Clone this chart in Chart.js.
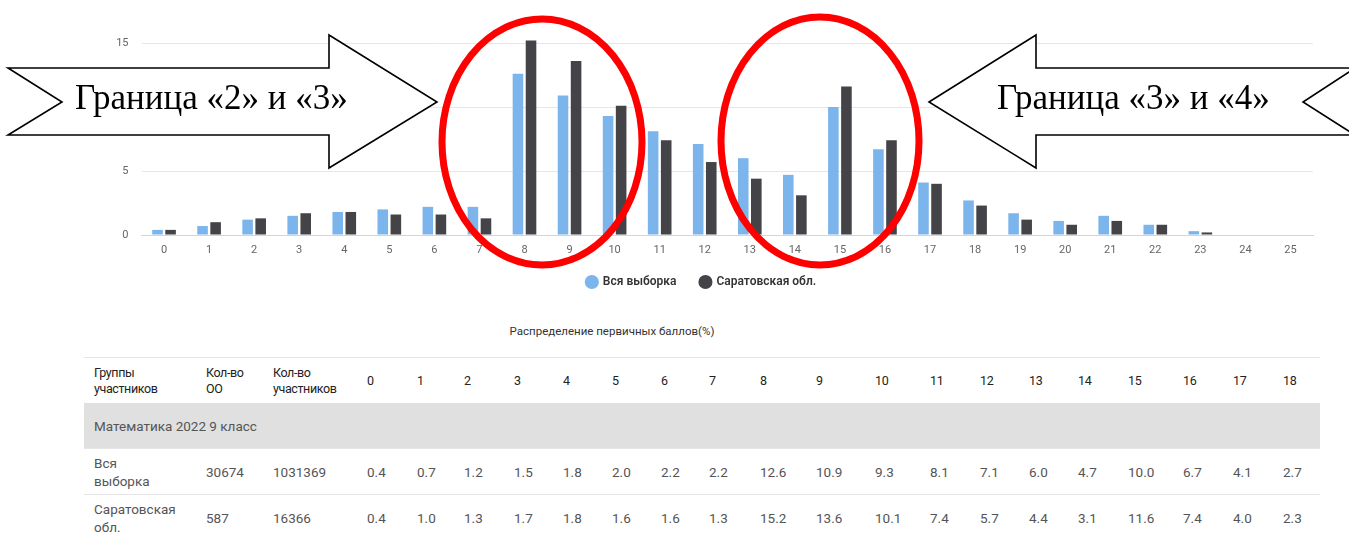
<!DOCTYPE html>
<html>
<head>
<meta charset="utf-8">
<script src="https://cdn.jsdelivr.net/npm/chart.js@4"></script>
<style>
  body { margin: 0; background: #fff; font-family: Roboto, "Noto Sans", sans-serif; }
  #wrap { position: relative; width: 1349px; height: 557px; overflow: hidden; }
  #chart { position: absolute; left: 0; top: 0; }
  #marks { position: absolute; left: 0; top: 0; }
  #caption { position: absolute; left: 0; top: 324px; width: 1224px; text-align: center; font-size: 11.5px; color: #333; }
  #scores { position: absolute; left: 84px; top: 357px; width: 1236px; border-collapse: collapse; table-layout: fixed; }
  #scores td, #scores th { padding: 0 0 0 10px; text-align: left; vertical-align: middle; height: 45px; border-top: 1px solid #e6e6e6; }
  #scores th { font-size: 12.5px; font-weight: 400; color: #222; line-height: 16px; letter-spacing: -0.4px; }
  #scores td { font-size: 13.5px; color: #555; line-height: 18px; }
  #scores tr.group td { background: #e0e0e0; color: #555; border-top: none; }
</style>
</head>
<body>
<div id="wrap">
  <canvas id="chart" width="1349" height="312"></canvas>
  <svg id="marks" width="1349" height="300">
    <polygon points="8,68 329,68 329,35 437,102 329,168 329,135 8,135 62,102" fill="#fff" stroke="#000" stroke-width="1.6"/>
    <text x="75" y="109" font-family="Liberation Serif, Times New Roman, serif" font-size="35" fill="#000">Граница «2» и «3»</text>
    <polygon points="929,102 1036,35 1036,68 1355,68 1303,102 1355,135 1036,135 1036,168" fill="#fff" stroke="#000" stroke-width="1.6"/>
    <text x="997" y="109" font-family="Liberation Serif, Times New Roman, serif" font-size="35" fill="#000">Граница «3» и «4»</text>
    <ellipse cx="542" cy="142" rx="100" ry="123" fill="none" stroke="#ff0000" stroke-width="7"/>
    <ellipse cx="820" cy="141" rx="99" ry="124" fill="none" stroke="#ff0000" stroke-width="7"/>
  </svg>
  <div id="caption">Распределение первичных баллов(%)</div>
  <table id="scores"></table>
</div>
<script>
const scores = ['0','1','2','3','4','5','6','7','8','9','10','11','12','13','14','15','16','17','18','19','20','21','22','23','24','25'];
const allSample = [0.4, 0.7, 1.2, 1.5, 1.8, 2.0, 2.2, 2.2, 12.6, 10.9, 9.3, 8.1, 7.1, 6.0, 4.7, 10.0, 6.7, 4.1, 2.7, 1.7, 1.1, 1.5, 0.8, 0.3, 0, 0];
const saratov = [0.4, 1.0, 1.3, 1.7, 1.8, 1.6, 1.6, 1.3, 15.2, 13.6, 10.1, 7.4, 5.7, 4.4, 3.1, 11.6, 7.4, 4.0, 2.3, 1.2, 0.8, 1.1, 0.8, 0.2, 0, 0];
const seriesNames = ['Вся выборка', 'Саратовская обл.'];

const groupNames = ['Вся<br>выборка', 'Саратовская<br>обл.'];
const schoolCounts = ['30674', '587'];
const pupilCounts = ['1031369', '16366'];
const subjectTitle = 'Математика 2022 9 класс';
const tableCols = 19;

const ctx = document.getElementById('chart').getContext('2d');

// legend sits a bit right of the canvas centre and closer to the axis in the original
const legendShift = {
    id: 'legendShift',
    afterLayout(chart) {
        const lg = chart.legend;
        lg.left += 45;
        lg.right += 45;
        lg.top -= 12;
        lg.bottom -= 12;
    }
};

const chart = new Chart(ctx, {
    type: 'bar',
    data: {
        labels: scores,
        datasets: [
            { label: seriesNames[0], data: allSample, backgroundColor: '#7cb5ec', clip: false },
            { label: seriesNames[1], data: saratov, backgroundColor: '#434348', clip: false }
        ]
    },
    plugins: [legendShift],
    options: {
        responsive: false,
        animation: false,
        layout: { padding: { top: 43, right: 36, bottom: 2, left: 0 } },
        datasets: { bar: { categoryPercentage: 0.58, barPercentage: 0.81 } },
        plugins: {
            legend: {
                position: 'bottom',
                labels: {
                    usePointStyle: true,
                    pointStyle: 'circle',
                    boxWidth: 10,
                    boxHeight: 10,
                    padding: 24,
                    color: '#333',
                    font: { family: 'Roboto', size: 12, weight: '600' }
                }
            },
            tooltip: { enabled: false }
        },
        scales: {
            x: {
                grid: { display: false, drawTicks: false },
                border: { color: '#ccd6eb' },
                ticks: { color: '#666', padding: 9, font: { family: 'Roboto', size: 11 } },
                afterFit: s => { s.height = 29; }
            },
            y: {
                min: 0,
                max: 15,
                ticks: { stepSize: 5, color: '#666', padding: 13, font: { family: 'Roboto', size: 11 } },
                grid: { color: '#e6e6e6', drawTicks: false },
                border: { display: false },
                afterFit: s => { s.width = 141.5; }
            }
        }
    }
});

// table of the first 19 scores
let html = '<tr><th>Группы<br>участников</th><th>Кол-во<br>ОО</th><th>Кол-во<br>участников</th>';
for (let i = 0; i < tableCols; i++) html += '<th>' + scores[i] + '</th>';
html += '</tr><tr class="group"><td colspan="' + (tableCols + 3) + '">' + subjectTitle + '</td></tr>';
const rows = [allSample, saratov];
rows.forEach((vals, r) => {
    html += '<tr><td>' + groupNames[r] + '</td><td>' + schoolCounts[r] + '</td><td>' + pupilCounts[r] + '</td>';
    for (let i = 0; i < tableCols; i++) html += '<td>' + vals[i].toFixed(1) + '</td>';
    html += '</tr>';
});
const colWidths = [112, 67, 94, 50, 47, 50, 49, 49, 49, 48, 51, 56, 59, 55, 50, 49, 49, 50, 55, 50, 50, 47];
document.getElementById('scores').innerHTML = '<colgroup>' + colWidths.map(w => '<col style="width:' + w + 'px">').join('') + '</colgroup>' + html;
</script>
</body>
</html>
